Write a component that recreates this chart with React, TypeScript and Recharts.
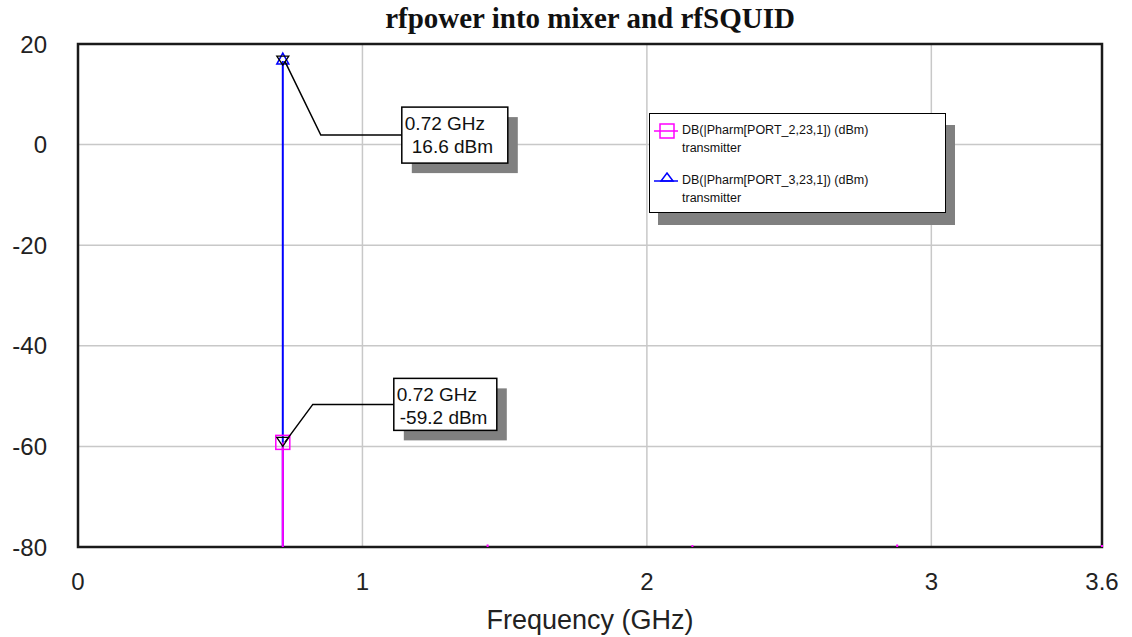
import React from "react";
import {
  ScatterChart,
  Scatter,
  XAxis,
  YAxis,
  CartesianGrid,
  ErrorBar,
  ReferenceArea,
  ReferenceDot,
  Legend,
} from "recharts";

// harmonics of the 0.72 GHz drive
const FREQS = [0.72, 1.44, 2.16, 2.88, 3.6];
const PORT2_DBM = [-59.2, -79.5, -79.6, -79.5, -79.6];
const PORT3_FREQS = [0.72];
const PORT3_DBM = [16.6];

const X_TICKS = [0, 1, 2, 3, 3.6];
const Y_TICKS = [20, 0, -20, -40, -60, -80];
const Y_MIN = -80;
const Y_MAX = 20;

const PORT2_NAME = "DB(|Pharm[PORT_2,23,1]) (dBm)";
const PORT3_NAME = "DB(|Pharm[PORT_3,23,1]) (dBm)";
const SUBTITLE = "transmitter";
const LEGEND_ORDER = [PORT2_NAME, PORT3_NAME];

const MAGENTA = "#ff00ff";
const BLUE = "#0000ff";
const SANS = "'Liberation Sans', Arial, sans-serif";

const port2Data = FREQS.map((f, i) => ({
  f,
  v: PORT2_DBM[i],
  i,
  err: [PORT2_DBM[i] - Y_MIN, 0],
}));
const port3Data = PORT3_FREQS.map((f, i) => ({
  f,
  v: PORT3_DBM[i],
  i,
  err: [PORT3_DBM[i] - Y_MIN, 0],
}));

const SquareSymbol = (p: any) =>
  p.payload && p.payload.i === 0 ? (
    <rect x={p.cx - 7} y={p.cy - 7} width={14} height={14} fill="none" stroke={MAGENTA} strokeWidth={1.5} />
  ) : (
    <g />
  );

const TriangleSymbol = (p: any) =>
  p.payload && p.payload.i === 0 ? (
    <path
      d={`M${p.cx},${p.cy - 8} L${p.cx + 6},${p.cy + 3} L${p.cx - 6},${p.cy + 3} Z`}
      fill="none"
      stroke={BLUE}
      strokeWidth={1.5}
    />
  ) : (
    <g />
  );

// marker readouts: box placement relative to the marked point
const MARKERS = [
  { f: PORT3_FREQS[0], v: PORT3_DBM[0], dx: 119, dy: 46, w: 106, h: 56, elbow: 38, indent: 10 },
  { f: FREQS[0], v: PORT2_DBM[0], dx: 111, dy: -64, w: 103, h: 52, elbow: 30, indent: 6 },
];

const MarkerShape = (m: (typeof MARKERS)[number]) => (p: any) => {
  const { cx, cy } = p;
  const bx = cx + m.dx;
  const by = cy + m.dy;
  const midY = by + m.h / 2;
  return (
    <g>
      <path
        d={`M${cx - 6},${cy - 5} L${cx + 6},${cy - 5} L${cx},${cy + 4} Z`}
        fill="none"
        stroke="#000"
        strokeWidth={1.3}
      />
      <polyline
        points={`${cx + 2},${cy} ${cx + m.elbow},${midY} ${bx},${midY}`}
        fill="none"
        stroke="#000"
        strokeWidth={1.5}
      />
      <rect x={bx + 10} y={by + 10} width={m.w} height={m.h} fill="#808080" />
      <rect x={bx} y={by} width={m.w} height={m.h} fill="#fff" stroke="#000" strokeWidth={1.5} />
      <text x={bx + 3} y={by + 23} fontSize={19} fontFamily={SANS} fill="#111">
        {`${m.f} GHz`}
      </text>
      <text x={bx + m.indent} y={by + 46} fontSize={19} fontFamily={SANS} fill="#111">
        {`${m.v.toFixed(1)} dBm`}
      </text>
    </g>
  );
};

const LegendBox = (props: any) => {
  const items = [...(props.payload || [])].sort(
    (a: any, b: any) => LEGEND_ORDER.indexOf(a.value) - LEGEND_ORDER.indexOf(b.value)
  );
  return (
    <div style={{ position: "relative", width: 297, height: 100 }}>
      <div style={{ position: "absolute", left: 9, top: 12, width: 297, height: 100, background: "#808080" }} />
      <div
        style={{
          position: "absolute",
          left: 0,
          top: 0,
          width: 295,
          height: 98,
          background: "#fff",
          border: "1.5px solid #000",
          fontFamily: SANS,
          fontSize: 12.5,
          color: "#111",
        }}
      >
        {items.map((it: any, k: number) => (
          <div key={k} style={{ position: "absolute", left: 0, top: 8 + k * 50, width: 290 }}>
            <svg width={30} height={18} style={{ position: "absolute", left: 2, top: 0 }}>
              <line x1={2} y1={9} x2={26} y2={9} stroke={it.color} strokeWidth={1.5} />
              {it.value === PORT2_NAME ? (
                <rect x={8} y={2} width={14} height={14} fill="none" stroke={it.color} strokeWidth={1.5} />
              ) : (
                <path d="M15,1 L21,9 L9,9 Z" fill="none" stroke={it.color} strokeWidth={1.5} />
              )}
            </svg>
            <div style={{ position: "absolute", left: 32, top: 1, whiteSpace: "nowrap" }}>{it.value}</div>
            <div style={{ position: "absolute", left: 32, top: 19, whiteSpace: "nowrap" }}>{SUBTITLE}</div>
          </div>
        ))}
      </div>
    </div>
  );
};

export default function App() {
  return (
    <div style={{ position: "absolute", left: 0, top: 0, width: 1132, height: 637, background: "#fff" }}>
      <div
        style={{
          position: "absolute",
          left: 0,
          top: 2,
          width: 1180,
          textAlign: "center",
          fontFamily: "'Liberation Serif', 'Times New Roman', serif",
          fontWeight: "bold",
          fontSize: 29,
          color: "#111",
          zIndex: 1,
        }}
      >
        rfpower into mixer and rfSQUID
      </div>
      <ScatterChart width={1132} height={637} margin={{ top: 44, right: 30, bottom: 0, left: 0 }}>
        <CartesianGrid stroke="#c8c8c8" strokeWidth={1.5} />
        <XAxis
          type="number"
          dataKey="f"
          domain={[0, 3.6]}
          ticks={X_TICKS}
          interval={0}
          height={90}
          tickSize={0}
          tickMargin={26}
          axisLine={false}
          tick={{ fill: "#222", fontSize: 24, fontFamily: SANS }}
          label={{
            value: "Frequency (GHz)",
            position: "insideBottom",
            offset: 8,
            fill: "#222",
            fontSize: 27,
            fontFamily: SANS,
          }}
        />
        <YAxis
          type="number"
          dataKey="v"
          domain={[Y_MIN, Y_MAX]}
          ticks={Y_TICKS}
          interval={0}
          width={78}
          tickSize={0}
          tickMargin={31}
          axisLine={false}
          tick={{ fill: "#222", fontSize: 24, fontFamily: SANS }}
        />
        <ReferenceArea x1={0} x2={3.6} y1={Y_MIN} y2={Y_MAX} fill="none" stroke="#1a1a1a" strokeWidth={2.5} />
        <Legend
          layout="horizontal"
          verticalAlign="middle"
          align="center"
          content={LegendBox}
          wrapperStyle={{ position: "absolute", left: 649, top: 113, width: 310, height: 115 }}
        />
        <Scatter name={PORT3_NAME} data={port3Data} fill={BLUE} stroke={BLUE} shape={TriangleSymbol} isAnimationActive={false}>
          <ErrorBar dataKey="err" direction="y" width={0} stroke={BLUE} strokeWidth={2} isAnimationActive={false} />
        </Scatter>
        <Scatter name={PORT2_NAME} data={port2Data} fill={MAGENTA} stroke={MAGENTA} shape={SquareSymbol} isAnimationActive={false}>
          <ErrorBar dataKey="err" direction="y" width={0} stroke={MAGENTA} strokeWidth={2} isAnimationActive={false} />
        </Scatter>
        {MARKERS.map((m, k) => (
          <ReferenceDot key={k} x={m.f} y={m.v} r={4} shape={MarkerShape(m)} />
        ))}
      </ScatterChart>
    </div>
  );
}
